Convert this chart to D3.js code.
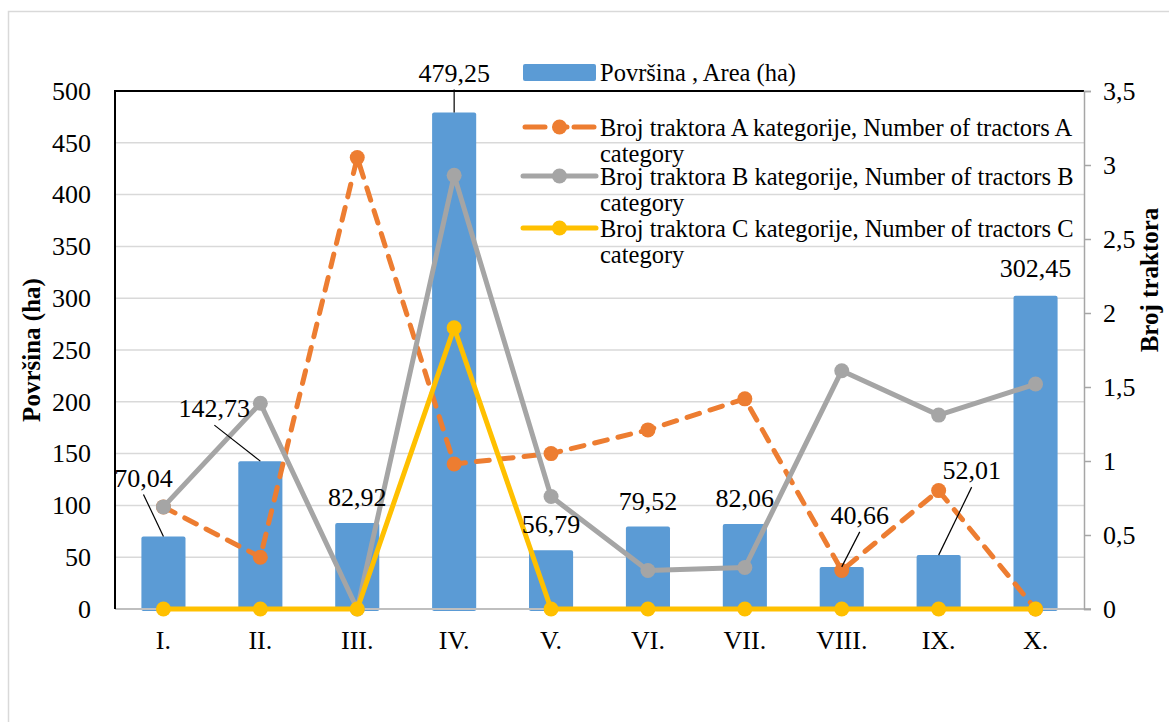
<!DOCTYPE html>
<html>
<head>
<meta charset="utf-8">
<script src="https://cdn.jsdelivr.net/npm/d3@7"></script>
<style>
  html, body { margin: 0; padding: 0; background: #fff; }
  svg { display: block; }
</style>
</head>
<body>
<svg id="chart" width="1169" height="722" font-family="'Liberation Serif', 'Times New Roman', serif"></svg>
<script>
// Regions (Roman numerals) on the category axis
const categories = ["I.", "II.", "III.", "IV.", "V.", "VI.", "VII.", "VIII.", "IX.", "X."];

// Area per region, ha (left axis)
const area = [70.04, 142.73, 82.92, 479.25, 56.79, 79.52, 82.06, 40.66, 52.01, 302.45];

// Number of tractors per category (right axis)
const tractorsA = [0.69, 0.35, 3.05, 0.98, 1.05, 1.21, 1.42, 0.26, 0.80, 0.00];
const tractorsB = [0.69, 1.39, 0.00, 2.93, 0.76, 0.26, 0.28, 1.61, 1.31, 1.52];
const tractorsC = [0.00, 0.00, 0.00, 1.90, 0.00, 0.00, 0.00, 0.00, 0.00, 0.00];

const leftTicks = [0, 50, 100, 150, 200, 250, 300, 350, 400, 450, 500];
const rightTicks = [0, 0.5, 1, 1.5, 2, 2.5, 3, 3.5];

const seriesNames = [
  "Površina , Area (ha)",
  "Broj traktora A kategorije, Number of tractors A category",
  "Broj traktora B kategorije, Number of tractors B category",
  "Broj traktora C kategorije, Number of tractors C category"
];

// Data-label placement relative to the bar top (pixels); leader lines where moved aside
const labelOffsets = [[-20, -59], [-46, -53], [0, -26], [0, -40], [0, -26],
                      [0, -26], [0, -26], [18, -52], [33, -85], [0, -28]];
const hasLeader = [true, true, false, true, false, false, false, true, true, false];

const FONT = "'Liberation Serif', 'Times New Roman', serif";
const fmt = v => d3.format(".2f")(v).replace(".", ",");
const fmtTick = v => String(v).replace(".", ",");

const svg = d3.select("#chart");
const W = 1169, H = 722;
const plot = { left: 115, right: 1084, top: 91, bottom: 609 };

const colors = { bar: "#5b9bd5", A: "#ed7d31", B: "#a5a5a5", C: "#ffc000" };

// outer chart frame
svg.append("rect")
  .attr("x", 8.5).attr("y", 11.5)
  .attr("width", W).attr("height", H)
  .attr("fill", "#fff").attr("stroke", "#d9d9d9").attr("stroke-width", 1.5);

const x = d3.scaleBand().domain(categories).range([plot.left, plot.right]).paddingInner(0.545).paddingOuter(0.2725);
const xc = c => x(c) + x.bandwidth() / 2;
const yL = d3.scaleLinear().domain([0, 500]).range([plot.bottom, plot.top]);
const yR = d3.scaleLinear().domain([0, 3.5]).range([plot.bottom, plot.top]);

// horizontal gridlines
svg.append("g")
  .selectAll("line")
  .data(leftTicks.filter(t => t > 0 && t < 500))
  .join("line")
  .attr("x1", plot.left).attr("x2", plot.right)
  .attr("y1", d => yL(d)).attr("y2", d => yL(d))
  .attr("stroke", "#d9d9d9").attr("stroke-width", 1.5);

// bars
svg.append("g")
  .selectAll("rect")
  .data(area)
  .join("rect")
  .attr("x", (d, i) => x(categories[i]))
  .attr("y", d => yL(d))
  .attr("width", x.bandwidth())
  .attr("height", d => yL(0) - yL(d) + 2)
  .attr("rx", 2)
  .attr("fill", colors.bar);

// zero line
svg.append("line")
  .attr("x1", plot.left).attr("x2", plot.right + 7)
  .attr("y1", plot.bottom).attr("y2", plot.bottom)
  .attr("stroke", "#bfbfbf").attr("stroke-width", 2);

// left axis and top frame
svg.append("path")
  .attr("d", `M${plot.left},${plot.bottom}V${plot.top}H${plot.right}`)
  .attr("fill", "none").attr("stroke", "#000").attr("stroke-width", 2);

// left axis labels
const leftAxis = d3.axisLeft(yL).tickValues(leftTicks).tickSize(0).tickPadding(24).tickFormat(fmtTick);
const gL = svg.append("g").attr("transform", `translate(${plot.left},0)`).call(leftAxis);
gL.attr("font-family", FONT);
gL.select(".domain").remove();
gL.selectAll("text").attr("font-size", 26).attr("fill", "#000");

// right axis
const rightAxis = d3.axisRight(yR).tickValues(rightTicks).tickSize(7).tickPadding(12).tickFormat(fmtTick);
const gR = svg.append("g").attr("transform", `translate(${plot.right},0)`).call(rightAxis);
gR.attr("font-family", FONT);
gR.select(".domain").attr("stroke", "#a6a6a6").attr("stroke-width", 1.5);
gR.selectAll(".tick line").attr("stroke", "#a6a6a6").attr("stroke-width", 1.5);
gR.selectAll("text").attr("font-size", 26).attr("fill", "#000");

// category axis labels
const bottomAxis = d3.axisBottom(x).tickSize(0).tickPadding(22);
const gB = svg.append("g").attr("transform", `translate(0,${plot.bottom})`).call(bottomAxis);
gB.attr("font-family", FONT);
gB.select(".domain").remove();
gB.selectAll("text").attr("font-size", 26).attr("fill", "#000");

// tractor lines
const line = d3.line().x((d, i) => xc(categories[i])).y(d => yR(d));
const lineSeries = [
  { values: tractorsA, color: colors.A, dash: "13,11" },
  { values: tractorsB, color: colors.B, dash: null },
  { values: tractorsC, color: colors.C, dash: null }
];
lineSeries.forEach(s => {
  const g = svg.append("g");
  g.append("path")
    .datum(s.values)
    .attr("d", line)
    .attr("fill", "none")
    .attr("stroke", s.color)
    .attr("stroke-width", 5)
    .attr("stroke-linecap", s.dash ? "round" : "butt")
    .attr("stroke-linejoin", "round")
    .attr("stroke-dasharray", s.dash);
  g.selectAll("circle")
    .data(s.values)
    .join("circle")
    .attr("cx", (d, i) => xc(categories[i]))
    .attr("cy", d => yR(d))
    .attr("r", 7.5)
    .attr("fill", s.color);
});

// data labels for area
const lbl = svg.append("g");
area.forEach((v, i) => {
  const bx = xc(categories[i]), by = yL(v);
  const lx = bx + labelOffsets[i][0], ly = by + labelOffsets[i][1];
  if (hasLeader[i]) {
    lbl.append("line")
      .attr("x1", lx).attr("y1", ly + 17)
      .attr("x2", bx).attr("y2", by)
      .attr("stroke", "#000").attr("stroke-width", 1.2);
  }
  lbl.append("text")
    .attr("x", lx).attr("y", ly)
    .attr("dy", "0.35em")
    .attr("text-anchor", "middle")
    .attr("font-size", 26)
    .attr("fill", "#000")
    .text(fmt(v));
});

// axis titles
svg.append("text")
  .attr("transform", `translate(40,${(plot.top + plot.bottom) / 2}) rotate(-90)`)
  .attr("text-anchor", "middle")
  .attr("font-size", 25).attr("font-weight", "bold")
  .text("Površina (ha)");
svg.append("text")
  .attr("transform", `translate(1158,${(plot.top + plot.bottom) / 2 - 70}) rotate(-90)`)
  .attr("text-anchor", "middle")
  .attr("font-size", 25).attr("font-weight", "bold")
  .text("Broj traktora");

// legend
const leg = svg.append("g").attr("font-size", 24.5);
const sw0 = 523, sw1 = 596, tx = 600;
leg.append("rect").attr("x", sw0).attr("y", 64).attr("width", sw1 - sw0).attr("height", 17)
  .attr("rx", 2).attr("fill", colors.bar);
leg.append("text").attr("x", tx).attr("y", 72).attr("dy", "0.35em").text(seriesNames[0]);

const legRows = [
  { y: 127, color: colors.A, dash: true, name: seriesNames[1] },
  { y: 176, color: colors.B, dash: false, name: seriesNames[2] },
  { y: 228, color: colors.C, dash: false, name: seriesNames[3] }
];
legRows.forEach(r => {
  if (r.dash) {
    [[sw0 + 2, sw0 + 22], [sw0 + 32, sw0 + 44], [sw1 - 22, sw1 - 2]].forEach(seg => {
      leg.append("line").attr("x1", seg[0]).attr("x2", seg[1]).attr("y1", r.y).attr("y2", r.y)
        .attr("stroke", r.color).attr("stroke-width", 5).attr("stroke-linecap", "round");
    });
  } else {
    leg.append("line").attr("x1", sw0).attr("x2", sw1).attr("y1", r.y).attr("y2", r.y)
      .attr("stroke", r.color).attr("stroke-width", 5).attr("stroke-linecap", "round");
  }
  leg.append("circle").attr("cx", (sw0 + sw1) / 2).attr("cy", r.y).attr("r", 7.5).attr("fill", r.color);
  const words = r.name.split(" ");
  const first = words.slice(0, -1).join(" ");
  const last = words[words.length - 1];
  const t = leg.append("text").attr("x", tx).attr("y", r.y).attr("dy", "0.35em");
  t.append("tspan").attr("x", tx).text(first);
  t.append("tspan").attr("x", tx).attr("dy", 26).text(last);
});
</script>
</body>
</html>
